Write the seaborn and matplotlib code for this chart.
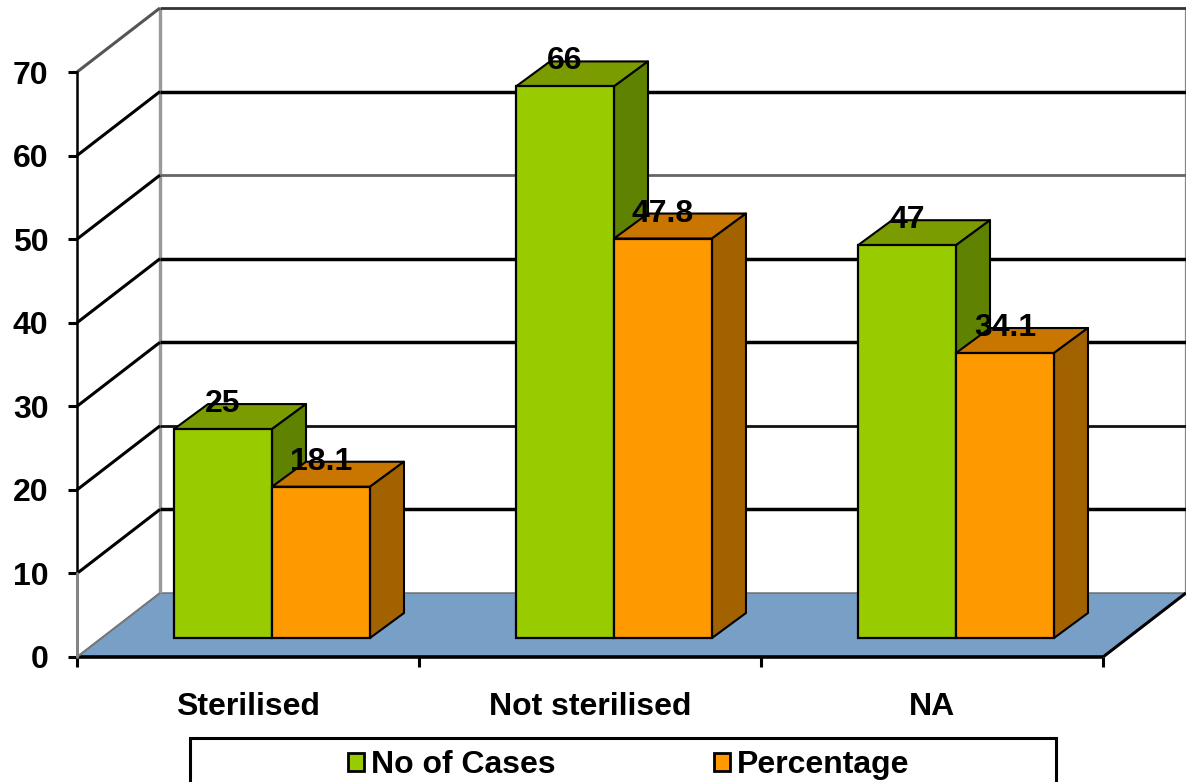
import matplotlib
matplotlib.use("Agg")
import matplotlib.pyplot as plt
import pandas as pd
import seaborn as sns
from matplotlib.patches import Polygon, Rectangle
from matplotlib.transforms import Affine2D

# Chart values
categories = ["Sterilised", "Not sterilised", "NA"]
no_of_cases = [25, 66, 47]
percentage = [18.1, 47.8, 34.1]
series_names = ["No of Cases", "Percentage"]
y_ticks = [0, 10, 20, 30, 40, 50, 60, 70]
grid_colors = {10: "black", 20: "#111111", 30: "black", 40: "black",
               50: "#666666", 60: "black", 70: "#333333"}

# Styling
FRONT = ["#99CC00", "#FF9900"]
TOP = ["#7A9C00", "#C87600"]
SIDE = ["#5F8200", "#A36200"]
FLOOR = "#789FC5"
FONT = "Liberation Sans"
FS = 23
DPI = 100
W, H = 1186, 782

# Depth of the box in pixels, and of the bars standing inside it
WALL_DX, WALL_DY = 83, 64
BAR_INSET_X, BAR_INSET_Y = 24, 19
BAR_DX, BAR_DY = 34, 25

sns.set_theme(style="white")
plt.rcParams["font.family"] = [FONT, "DejaVu Sans"]
plt.rcParams["font.weight"] = "bold"

df = pd.DataFrame({
    "category": categories * 2,
    "series": [series_names[0]] * 3 + [series_names[1]] * 3,
    "value": no_of_cases + percentage,
})

fig = plt.figure(figsize=(W / DPI, H / DPI), dpi=DPI, facecolor="white")
ax = fig.add_axes([77 / W, 1 - 657 / H, (1103 - 77) / W, (657 - 72) / H])
ax.patch.set_visible(False)

sns.barplot(data=df, x="category", y="value", hue="series", order=categories,
            hue_order=series_names, palette=FRONT, saturation=1, width=0.573,
            gap=0, edgecolor="black", linewidth=1.6, ax=ax, zorder=5)
ax.set_xlim(-0.5, 2.5)
ax.set_ylim(0, 70)
ax.set_xlabel("")
ax.set_ylabel("")


def px(x, y):
    """Data coordinates to display pixels."""
    return ax.transData.transform((x, y))


def poly(points, face, edge, lw, z):
    ax.add_patch(Polygon(points, closed=True, facecolor=face, edgecolor=edge,
                         linewidth=lw, transform=None, clip_on=False,
                         zorder=z, joinstyle="round"))


def seg(points, color, lw, z=1):
    xs, ys = zip(*points)
    ax.plot(xs, ys, color=color, lw=lw, transform=Affine2D(), clip_on=False,
            zorder=z, solid_capstyle="butt")


# Floor of the box
x0, x1 = ax.get_xlim()
fl, fr = px(x0, 0), px(x1, 0)
poly([fl, fr, fr + (WALL_DX, WALL_DY), fl + (WALL_DX, WALL_DY)], FLOOR, "#666666", 1.0, 1)
seg([fr, fr + (WALL_DX, WALL_DY)], "black", 2.2, 2)
seg([fl, fr], "black", 2.6, 2)

# Back and side walls with their gridlines
top_l = px(x0, y_ticks[-1]) + (WALL_DX, WALL_DY)
top_r = px(x1, y_ticks[-1]) + (WALL_DX, WALL_DY)
seg([fl + (WALL_DX, WALL_DY), top_l], "#999999", 2.4)
seg([fr + (WALL_DX, WALL_DY), top_r], "#888888", 1.6)
seg([fl, fl + (WALL_DX, WALL_DY)], "#777777", 1.4, 2)
for v in y_ticks[1:]:
    a, b = px(x0, v), px(x1, v)
    c = grid_colors[v]
    lw = 2.5 if c == "black" else 2.0
    seg([a + (WALL_DX, WALL_DY), b + (WALL_DX, WALL_DY)], c, lw)
    seg([a, a + (WALL_DX, WALL_DY)], "#555555" if v == y_ticks[-1] else "black", 2.2)

# Third dimension of every bar, and the value printed above it
shift = Affine2D().translate(BAR_INSET_X, BAR_INSET_Y)
for s_idx, container in enumerate(ax.containers):
    z = 5 + s_idx
    for bar in container:
        left, width, height = bar.get_x(), bar.get_width(), bar.get_height()
        bl = px(left, 0) + (BAR_INSET_X, BAR_INSET_Y)
        br = px(left + width, 0) + (BAR_INSET_X, BAR_INSET_Y)
        tl = px(left, height) + (BAR_INSET_X, BAR_INSET_Y)
        tr = px(left + width, height) + (BAR_INSET_X, BAR_INSET_Y)
        d = (BAR_DX, BAR_DY)
        poly([tl, tr, tr + d, tl + d], TOP[s_idx], "black", 1.5, z)
        poly([br, tr, tr + d, br + d], SIDE[s_idx], "black", 1.5, z)
        bar.set_transform(ax.transData + shift)
        bar.set_clip_on(False)
        bar.set_zorder(z + 0.5)
        ax.annotate(f"{height:g}", xy=(left + width / 2, height),
                    xytext=(BAR_INSET_X * 0.72, (BAR_INSET_Y + 25) * 0.72),
                    textcoords="offset points", ha="center", va="center",
                    fontsize=FS, fontweight="bold", color="black",
                    annotation_clip=False, zorder=10)

# Axes, ticks and category names
for name in ("top", "right", "bottom"):
    ax.spines[name].set_visible(False)
ax.spines["left"].set_color("black")
ax.spines["left"].set_linewidth(1.8)
ax.spines["left"].set_zorder(3)
ax.plot([x0, x0], [0, y_ticks[1]], color="#888888", lw=2.0, clip_on=False, zorder=4)

ax.set_yticks(y_ticks)
ax.set_yticklabels([str(v) for v in y_ticks], fontsize=FS, fontweight="bold", color="black")
ax.tick_params(axis="y", which="major", left=True, length=6.5, width=2.2, color="black", pad=14)

ax.set_xticks([-0.5, 0.5, 1.5, 2.5])
ax.set_xticklabels([])
ax.set_xticks([0, 1, 2], minor=True)
ax.set_xticklabels(categories, minor=True, fontsize=FS, fontweight="bold", color="black")
ax.tick_params(axis="x", which="major", bottom=True, length=7.5, width=2.2, color="black")
ax.tick_params(axis="x", which="minor", bottom=False, length=0, pad=25)

# Legend in its box, which runs off the lower edge of the figure
handles, labels = ax.get_legend_handles_labels()
ax.get_legend().remove()
fig.add_artist(Rectangle((190 / W, -0.05), (1056 - 190) / W, 1 - 738 / H + 0.05,
                         transform=fig.transFigure, facecolor="white",
                         edgecolor="black", linewidth=2.2))
for h in handles:
    h.set_linewidth(2.0)
leg = fig.legend(handles, labels, loc="center left",
                 bbox_to_anchor=(348 / W, 1 - 765 / H), ncol=2, frameon=False,
                 fontsize=FS, handlelength=0.5, handleheight=0.5,
                 handletextpad=0.22, columnspacing=4.95, borderpad=0,
                 borderaxespad=0, labelcolor="black",
                 prop={"family": FONT, "weight": "bold", "size": FS})
leg.set_zorder(20)

fig.savefig("out.png", dpi=DPI, facecolor="white")
